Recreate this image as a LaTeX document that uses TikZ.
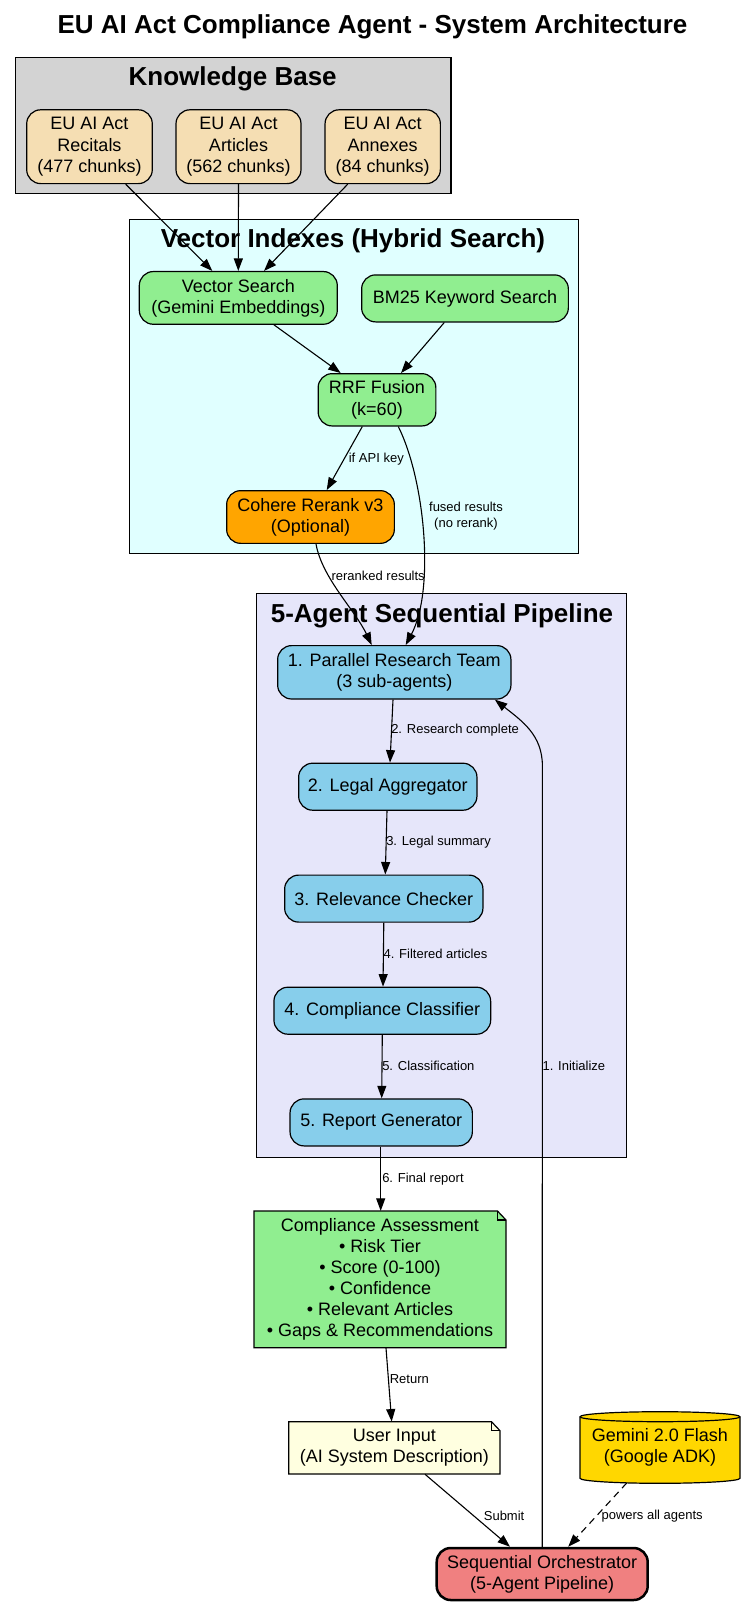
\documentclass[tikz,border=0pt]{standalone}
\usepackage{fontspec}
\setmainfont{Liberation Sans}
\usetikzlibrary{arrows.meta}
\definecolor{kbgray}{HTML}{D3D3D3}
\definecolor{wheatc}{HTML}{F5DEB3}
\definecolor{lcyan}{HTML}{E0FFFF}
\definecolor{lgreen}{HTML}{90EE90}
\definecolor{orangec}{HTML}{FFA500}
\definecolor{lavend}{HTML}{E6E6FA}
\definecolor{skyb}{HTML}{87CEEB}
\definecolor{lyellow}{HTML}{FFFFE0}
\definecolor{goldc}{HTML}{FFD700}
\definecolor{lcoral}{HTML}{F08080}
\begin{document}
\begin{tikzpicture}[x=1pt,y=-1pt,
  box/.style={draw, rounded corners=14pt, align=center, font=\fontsize{18}{21.1}\selectfont, inner sep=1pt, line width=1.2pt},
  plain/.style={align=center, font=\fontsize{18}{21.1}\selectfont, inner sep=0pt},
  cluster/.style={draw, line width=1.2pt},
  ctitle/.style={font=\fontsize{26}{30}\selectfont\bfseries, inner sep=0pt},
  edge/.style={draw, line width=1.1pt, -{Triangle[length=12.5pt,width=9pt]}},
  lbl/.style={font=\fontsize{13}{16.5}\selectfont, align=center, inner sep=0pt},
  shapeline/.style={draw, line width=1.2pt}
]
\useasboundingbox (0,0) rectangle (745,1606);
\fill[white] (0,0) rectangle (745,1606);

\node[ctitle] (title) at (372.5,27.3) {EU AI Act Compliance Agent - System Architecture};

% clusters
\draw[cluster, fill=kbgray] (15.7,57.4) rectangle (451,193.7);
\node[ctitle] (kbt) at (232.7,79.2) {Knowledge Base};
\draw[cluster, fill=lcyan] (129.3,219.2) rectangle (578.7,553.6);
\node[ctitle] (vit) at (353,241) {Vector Indexes (Hybrid Search)};
\draw[cluster, fill=lavend] (256.7,593.6) rectangle (626.7,1157.3);
\node[ctitle] (pit) at (442,615.4) {5-Agent Sequential Pipeline};

% knowledge base
\node[box, fill=wheatc, minimum width=125.6pt, minimum height=73.8pt] (rec) at (89.5,146.7) {EU AI Act\\Recitals\\(477 chunks)};
\node[box, fill=wheatc, minimum width=125pt, minimum height=73.8pt] (art) at (238.5,146.7) {EU AI Act\\Articles\\(562 chunks)};
\node[box, fill=wheatc, minimum width=115.3pt, minimum height=73.8pt] (anx) at (382.7,146.7) {EU AI Act\\Annexes\\(84 chunks)};

% vector indexes
\node[box, fill=lgreen, minimum width=198pt, minimum height=52.7pt] (vs) at (238.3,297.9) {Vector Search\\(Gemini Embeddings)};
\node[box, fill=lgreen, minimum width=206.7pt, minimum height=47pt] (bm) at (465,298.4) {BM25 Keyword Search};
\node[box, fill=lgreen, minimum width=117.7pt, minimum height=52.3pt] (rrf) at (377,399.8) {RRF Fusion\\(k=60)};
\node[box, fill=orangec, minimum width=167.7pt, minimum height=52.7pt] (coh) at (310.5,517) {Cohere Rerank v3\\(Optional)};

% pipeline
\node[box, fill=skyb, minimum width=233.3pt, minimum height=53.4pt] (par) at (394.3,672.3) {1. Parallel Research Team\\(3 sub-agents)};
\node[box, fill=skyb, minimum width=178.3pt, minimum height=47pt] (leg) at (387.8,786.7) {2. Legal Aggregator};
\node[box, fill=skyb, minimum width=198.3pt, minimum height=47pt] (rel) at (383.8,898.6) {3. Relevance Checker};
\node[box, fill=skyb, minimum width=216.7pt, minimum height=47pt] (cls) at (382.3,1010.7) {4. Compliance Classifier};
\node[box, fill=skyb, minimum width=182.3pt, minimum height=47pt] (rep) at (381.2,1122.4) {5. Report Generator};

% compliance assessment note
\draw[shapeline, fill=lgreen] (254,1211) -- (497.5,1211) -- (506,1220) -- (506,1347.7) -- (254,1347.7) -- cycle;
\draw[shapeline] (497.5,1211) -- (497.5,1220) -- (506,1220);
\node[plain, minimum width=252pt, minimum height=136.7pt] (ca) at (380,1279.4) {Compliance Assessment\\• Risk Tier\\• Score (0-100)\\• Confidence\\• Relevant Articles\\• Gaps \& Recommendations};

% user input note
\draw[shapeline, fill=lyellow] (288.7,1421.7) -- (491.5,1421.7) -- (500,1430.7) -- (500,1474) -- (288.7,1474) -- cycle;
\draw[shapeline] (491.5,1421.7) -- (491.5,1430.7) -- (500,1430.7);
\node[plain, minimum width=211.3pt, minimum height=52.3pt] (ui) at (394.3,1447.9) {User Input\\(AI System Description)};

% gemini cylinder
\draw[shapeline, fill=goldc] (580,1416.7) -- (580,1478.3) arc[start angle=180, end angle=360, x radius=80pt, y radius=5pt] -- (740,1416.7) arc[start angle=0, end angle=180, x radius=80pt, y radius=5pt] -- cycle;
\draw[line width=1.2pt] (580,1416.7) arc[start angle=180, end angle=360, x radius=80pt, y radius=5pt];
\node[plain, minimum width=160pt, minimum height=71.6pt] (gem) at (660,1447.5) {Gemini 2.0 Flash\\(Google ADK)};

% orchestrator
\node[box, fill=lcoral, line width=2.5pt, minimum width=211pt, minimum height=52pt] (orch) at (542.2,1574) {Sequential Orchestrator\\(5-Agent Pipeline)};

% edges
\draw[edge] ([xshift=36.2pt]rec.south) -- ([xshift=-26pt]vs.north);
\draw[edge] (art.south) -- (vs.north);
\draw[edge] ([xshift=-35pt]anx.south) -- ([xshift=25.7pt]vs.north);
\draw[edge] ([xshift=35.7pt]vs.south) -- ([xshift=-36.3pt]rrf.north);
\draw[edge] ([xshift=-20.7pt]bm.south) -- ([xshift=24pt]rrf.north);
\draw[edge] ([xshift=-14.7pt]rrf.south) -- ([xshift=16.2pt]coh.north) node[lbl, anchor=west] at (348.3,458.7) {if API key};
\draw[edge] ([xshift=21.3pt]rrf.south) .. controls (425,480) and (435,590) .. ([xshift=11.4pt]par.north) node[lbl] at (466,516) {fused results\\(no rerank)};
\draw[edge] ([xshift=5.5pt]coh.south) .. controls (322,578) and (355,610) .. ([xshift=-22.6pt]par.north) node[lbl, anchor=west] at (331,575.5) {reranked results};
\draw[edge] ([xshift=-1.3pt]par.south) -- ([xshift=2.2pt]leg.north) node[lbl, anchor=west] at (390.7,730.3) {2. Research complete};
\draw[edge] ([xshift=-0.8pt]leg.south) -- ([xshift=1.5pt]rel.north) node[lbl, anchor=west] at (385.7,842.6) {3. Legal summary};
\draw[edge] (rel.south) -- ([xshift=0.7pt]cls.north) node[lbl, anchor=west] at (383,954.2) {4. Filtered articles};
\draw[edge] (cls.south) -- ([xshift=0.5pt]rep.north) node[lbl, anchor=west] at (381.7,1066.2) {5. Classification};
\draw[edge] ([xshift=-0.5pt]rep.south) -- ([xshift=0.7pt]ca.north) node[lbl, anchor=west] at (381.7,1179) {6. Final report};
\draw[edge] ([xshift=6pt]ca.south) -- ([xshift=-2.6pt]ui.north) node[lbl, anchor=west] at (389.3,1379.3) {Return};
\draw[edge] ([xshift=30.7pt]ui.south) -- ([xshift=-32.2pt]orch.north) node[lbl, anchor=west] at (483.3,1515.7) {Submit};
\coordinate (gemout) at (626.7,1483);
\draw[edge, dash pattern=on 7pt off 5pt] (gemout) -- ([xshift=26pt]orch.north) node[lbl, anchor=west] at (601,1515.7) {powers all agents};
\coordinate (initbend) at (542.4,766);
\draw[edge] (orch.north) -- (initbend) .. controls (542.4,735) and (522,721) .. ([xshift=-16.7pt]par.south east) node[lbl, anchor=west] at (542,1066.2) {1. Initialize};
\end{tikzpicture}
\end{document}
